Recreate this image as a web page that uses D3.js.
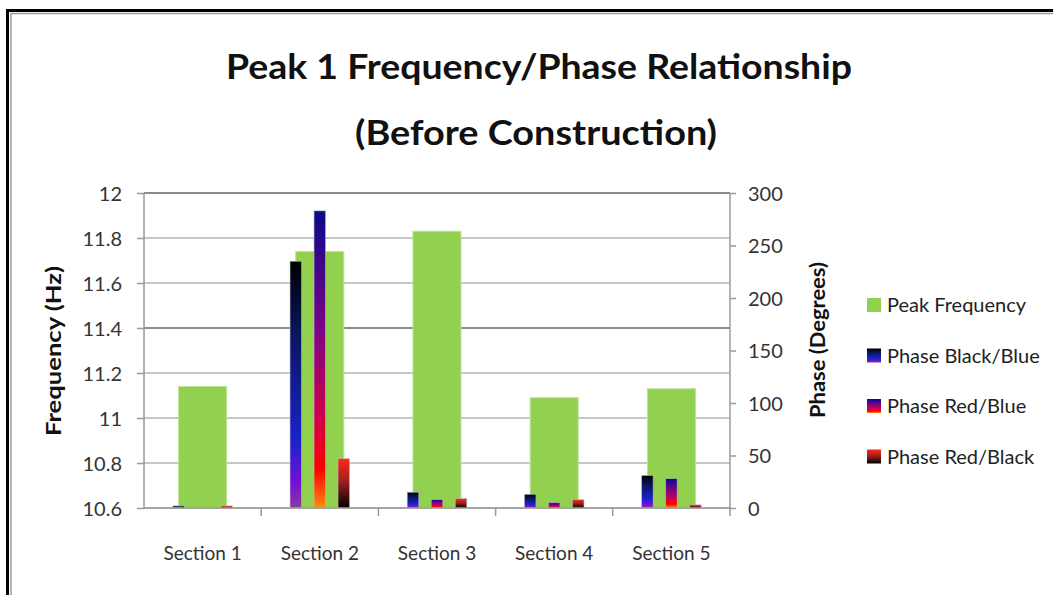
<!DOCTYPE html>
<html><head><meta charset="utf-8">
<script src="https://cdn.jsdelivr.net/npm/d3@7"></script>
<style>
html,body{margin:0;padding:0;background:#fff;}
svg{display:block;}
text{font-family:Lato,"Open Sans",sans-serif;}
</style></head>
<body>
<script>
const categories = ["Section 1","Section 2","Section 3","Section 4","Section 5"];
const peakFrequency = [11.14, 11.74, 11.83, 11.09, 11.13];
const phaseBlackBlue = [2, 235, 15, 13, 31];
const phaseRedBlue = [0, 283, 8, 5, 28];
const phaseRedBlack = [2, 47, 9, 8, 3];
const leftTicks = [10.6, 10.8, 11, 11.2, 11.4, 11.6, 11.8, 12];
const rightTicks = [0, 50, 100, 150, 200, 250, 300];
const seriesNames = ["Peak Frequency","Phase Black/Blue","Phase Red/Blue","Phase Red/Black"];

const W = 1053, H = 595;
const svg = d3.select("body").append("svg").attr("width", W).attr("height", H);
const defs = svg.append("defs");

const gradients = {
  "bb": [[0,"#000000"],[0.3,"#0a1660"],[0.72,"#1a22c8"],[0.9,"#7410d8"],[1,"#8a3c98"]],
  "rb": [[0,"#0a0a88"],[0.4,"#7e0388"],[0.7,"#d00048"],[0.87,"#ff0000"],[1,"#ff8c10"]],
  "rk": [[0,"#ff2a14"],[0.45,"#a02020"],[1,"#000000"]]
};
Object.entries(gradients).forEach(([id, stops]) => {
  const g = defs.append("linearGradient").attr("id", "g-"+id)
    .attr("x1",0).attr("y1",0).attr("x2",0).attr("y2",1);
  stops.forEach(s => g.append("stop").attr("offset", s[0]).attr("stop-color", s[1]));
});

// frame
svg.append("rect").attr("x",7.5).attr("y",10.5).attr("width",1100).attr("height",700)
  .attr("fill","none").attr("stroke","#000").attr("stroke-width",3);
svg.append("rect").attr("x",11).attr("y",13.5).attr("width",1100).attr("height",700)
  .attr("fill","none").attr("stroke","#9a9a9a").attr("stroke-width",1.5);

const pLeft = 144, pRight = 730, pTop = 193, pBottom = 508;
const x = d3.scaleBand().domain(categories).range([pLeft, pRight]).padding(0);
const yL = d3.scaleLinear().domain([10.6, 12]).range([pBottom, pTop]);
const yR = d3.scaleLinear().domain([0, 300]).range([pBottom, pTop]);

// gridlines
svg.append("g").selectAll("line").data(leftTicks).join("line")
  .attr("x1", pLeft).attr("x2", pRight)
  .attr("y1", d => yL(d)).attr("y2", d => yL(d))
  .attr("stroke", d => (d === 11.4 || d === 12) ? "#8c8c8c" : "#b4b4b4")
  .attr("stroke-width", d => (d === 11.4 || d === 12) ? 2 : 1.5);

// green bars
const gw = x.bandwidth() * 0.41;
svg.append("g").selectAll("rect").data(categories).join("rect")
  .attr("x", d => x(d) + x.bandwidth()/2 - gw/2)
  .attr("width", gw)
  .attr("y", (d,i) => yL(peakFrequency[i]))
  .attr("height", (d,i) => pBottom - yL(peakFrequency[i]))
  .attr("fill", "#92d050").attr("stroke", "#bfe29c").attr("stroke-width", 1);

// phase bars
const phaseSeries = [
  {key:"bb", values: phaseBlackBlue},
  {key:"rb", values: phaseRedBlue},
  {key:"rk", values: phaseRedBlack}
];
const x1 = d3.scaleBand().domain(phaseSeries.map(s => s.key)).range([0, 72])
  .paddingInner(0.52).paddingOuter(0.26);
phaseSeries.forEach(s => {
  svg.append("g").selectAll("rect").data(categories.filter((d,i) => s.values[i] > 0)).join("rect")
    .attr("x", d => x(d) + x.bandwidth()/2 - 36 + x1(s.key))
    .attr("width", x1.bandwidth())
    .attr("y", d => yR(s.values[categories.indexOf(d)]))
    .attr("height", d => pBottom - yR(s.values[categories.indexOf(d)]))
    .attr("fill", `url(#g-${s.key})`)
    .attr("stroke", "rgba(190,190,200,0.7)").attr("stroke-width", 0.8);
});

// axes
const axisColor = "#9a9a9a";
const gL = svg.append("g").attr("transform", `translate(${pLeft},0)`)
  .call(d3.axisLeft(yL).tickValues(leftTicks).tickSize(7).tickPadding(15).tickFormat(d3.format("")));
const gR = svg.append("g").attr("transform", `translate(${pRight},0)`)
  .call(d3.axisRight(yR).tickValues(rightTicks).tickSize(6).tickPadding(12));
const gB = svg.append("g").attr("transform", `translate(0,${pBottom})`)
  .call(d3.axisBottom(x).tickSize(0).tickPadding(52));
// category boundary ticks
svg.append("g").selectAll("line").data(categories.slice(1).concat(["__end"])).join("line")
  .attr("x1", d => d === "__end" ? pRight : x(d)).attr("x2", d => d === "__end" ? pRight : x(d))
  .attr("y1", pBottom).attr("y2", pBottom + 8)
  .attr("stroke", axisColor).attr("stroke-width", 1.5);

[gL, gR, gB].forEach(g => {
  g.select(".domain").attr("stroke", axisColor).attr("stroke-width", 1.5);
  g.selectAll(".tick line").attr("stroke", axisColor).attr("stroke-width", 1.5);
  g.selectAll(".tick text").attr("fill", "#333").style("font-family", "Lato, sans-serif");
});
gL.select(".domain").attr("d", `M0,${pTop}V${pBottom}`);
gR.select(".domain").attr("d", `M0,${pTop}V${pBottom}`);
gB.select(".domain").attr("d", `M${pLeft},0H${pRight}`);
gL.selectAll(".tick text").style("font-size", "20px").attr("dy", "0.35em");
gR.selectAll(".tick text").style("font-size", "20px").attr("dy", "0.35em");
gB.selectAll(".tick text").style("font-size", "19px").attr("dy", "0");

// axis titles
svg.append("text").attr("transform", "translate(61,351) rotate(-90)")
  .attr("text-anchor", "middle").style("font-size", "21px").style("font-weight", "bold")
  .attr("fill", "#111").attr("textLength", 170).attr("lengthAdjust", "spacingAndGlyphs")
  .text("Frequency (Hz)");
svg.append("text").attr("transform", "translate(825,340) rotate(-90)")
  .attr("text-anchor", "middle").style("font-size", "21px").style("font-weight", "bold")
  .attr("fill", "#111").attr("textLength", 156).attr("lengthAdjust", "spacingAndGlyphs")
  .text("Phase (Degrees)");

// title
svg.append("text").attr("x", 539).attr("y", 79).attr("text-anchor", "middle")
  .style("font-size", "34px").style("font-weight", "bold").attr("fill", "#111")
  .attr("textLength", 626).attr("lengthAdjust", "spacingAndGlyphs")
  .text("Peak 1 Frequency/Phase Relationship");
svg.append("text").attr("x", 536).attr("y", 145).attr("text-anchor", "middle")
  .style("font-size", "34px").style("font-weight", "bold").attr("fill", "#111")
  .attr("textLength", 362).attr("lengthAdjust", "spacingAndGlyphs")
  .text("(Before Construction)");

// legend
const legendFills = ["#92d050", "url(#g-bb)", "url(#g-rb)", "url(#g-rk)"];
const lg = svg.append("g").selectAll("g").data(seriesNames).join("g")
  .attr("transform", (d,i) => `translate(867,${298 + i*50.5})`);
lg.append("rect").attr("width", 14).attr("height", 14).attr("fill", (d,i) => legendFills[i]);
lg.append("text").attr("x", 20).attr("y", 14).style("font-size", "20px").attr("fill", "#222")
  .text(d => d);
</script>
</body></html>
